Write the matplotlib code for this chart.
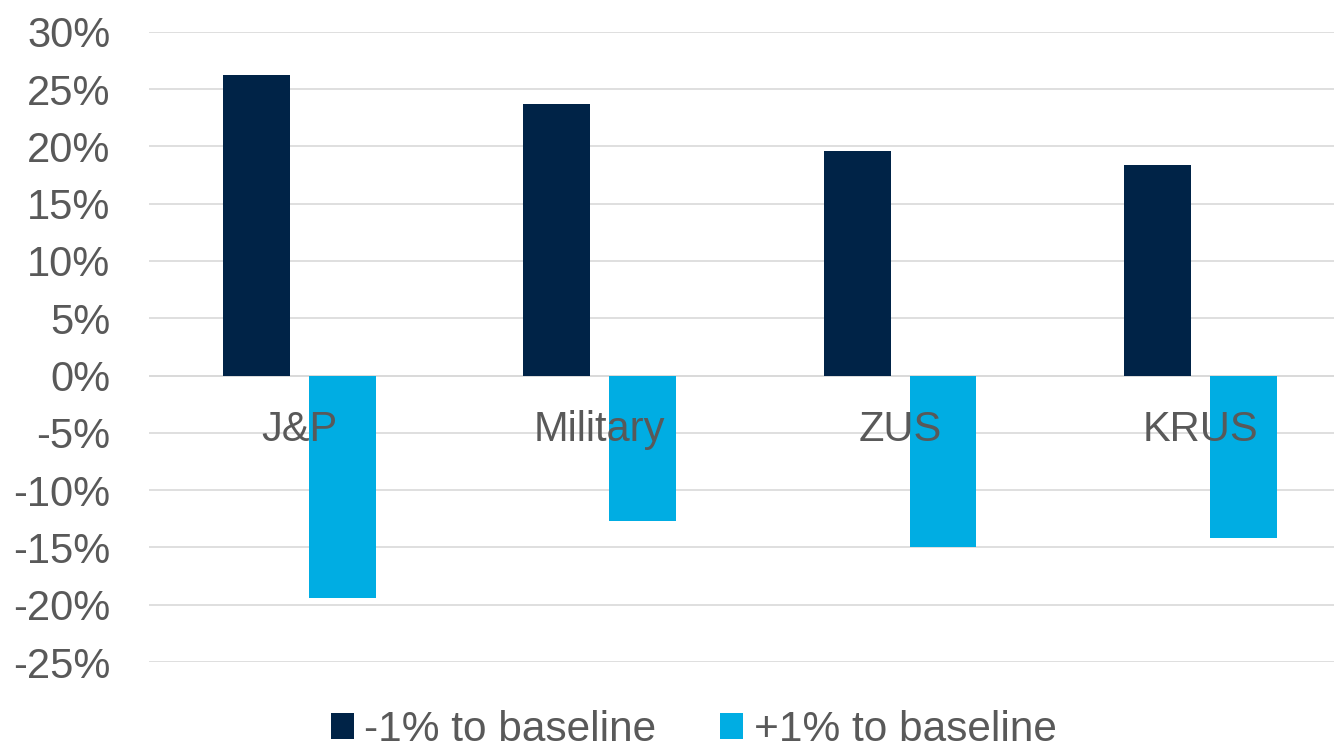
import numpy as np
import matplotlib.pyplot as plt
from matplotlib.ticker import FuncFormatter

# data
categories = ['J&P', 'Military', 'ZUS', 'KRUS']
minus_one = [26.2, 23.7, 19.6, 18.4]
plus_one = [-19.4, -12.7, -15.0, -14.2]

dark = '#002347'
light = '#00ADE3'
grey = '#595959'

plt.rcParams['font.family'] = ['Liberation Sans', 'DejaVu Sans']

fig = plt.figure(figsize=(13.34, 7.5), dpi=100)
# chart is cropped on the right in the reference, so the axes run to the edge
ax = fig.add_axes([0.1119, 0.1173, 0.8881, 0.8404])

x = np.arange(len(categories))
w = 0.223
ax.bar(x - 0.143, minus_one, w, color=dark, label='-1% to baseline', zorder=3)
ax.bar(x + 0.143, plus_one, w, color=light, label='+1% to baseline', zorder=3)

ax.set_xlim(-0.5, 3.445)
ax.set_ylim(-25, 30)
ax.set_yticks(np.arange(-25, 31, 5))
ax.yaxis.set_major_formatter(FuncFormatter(lambda v, p: '%d%%' % v))
ax.grid(axis='y', color='#D9D9D9', linewidth=1.2, zorder=0)

for s in ['top', 'right', 'left', 'bottom']:
    ax.spines[s].set_visible(False)
ax.axhline(0, color='#D9D9D9', linewidth=1.2, zorder=1)

ax.set_xticks([])
ax.tick_params(axis='y', length=0, pad=28, labelsize=30, labelcolor=grey)

# category names sit just under the zero line, over the bars
for i, c in enumerate(categories):
    ax.annotate(c, (i, 0), xytext=(0, -24.5), textcoords='offset points',
                ha='center', va='top', fontsize=30, color=grey, zorder=5)

fig.legend(loc='center', bbox_to_anchor=(0.52, 0.027), ncol=2, frameon=False,
           fontsize=30.5, labelcolor=grey, handlelength=0.55, handleheight=0.55,
           handletextpad=0.25, columnspacing=1.5, borderpad=0)

fig.savefig('out.png', dpi=100)
